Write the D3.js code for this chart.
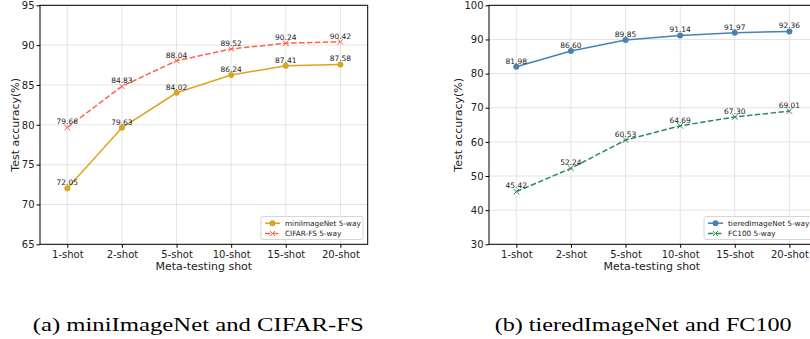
<!DOCTYPE html>
<meta charset="utf-8">
<body style="margin:0;background:#fff">
<div id="chart"></div>
</body>
<script src="https://d3js.org/d3.v7.min.js"></script>
<style>
    text { font-family: "DejaVu Sans", sans-serif; fill: #222; }
    .grid line { stroke: #dcdcdc; stroke-width: 0.8px; }
    .axis path, .axis line { stroke: #000; }
    .caption { font-family: "Liberation Serif", "DejaVu Serif", serif; fill: #000; }
</style>
<script>
    // data
    var shots = ["1-shot", "2-shot", "5-shot", "10-shot", "15-shot", "20-shot"];

    var miniImageNet = [72.05, 79.63, 84.02, 86.24, 87.41, 87.58];
    var cifarFS      = [79.66, 84.83, 88.04, 89.52, 90.24, 90.42];
    var tieredImageNet = [81.98, 86.60, 89.85, 91.14, 91.97, 92.36];
    var fc100          = [45.42, 52.24, 60.53, 64.69, 67.30, 69.01];

    var leftTicks  = [65, 70, 75, 80, 85, 90, 95];
    var rightTicks = [30, 40, 50, 60, 70, 80, 90, 100];

    var W = 810, H = 339;

    var svg = d3.select("#chart").append("svg")
        .attr("width", W)
        .attr("height", H);

    function drawPanel(opt) {
        var g = svg.append("g");
        var x = d3.scalePoint().domain(shots).range([opt.left, opt.right]).padding(0.5);
        var y = d3.scaleLinear().domain(opt.yDomain).range([244.3, 5.3]);

        // grid
        var grid = g.append("g").attr("class", "grid");
        grid.selectAll(".gx").data(shots).enter().append("line")
            .attr("x1", d => x(d)).attr("x2", d => x(d))
            .attr("y1", y.range()[0]).attr("y2", y.range()[1]);
        grid.selectAll(".gy").data(opt.ticks).enter().append("line")
            .attr("x1", opt.left).attr("x2", opt.right)
            .attr("y1", d => y(d)).attr("y2", d => y(d));

        // frame
        g.append("rect")
            .attr("x", opt.left).attr("y", y.range()[1])
            .attr("width", opt.right - opt.left)
            .attr("height", y.range()[0] - y.range()[1])
            .attr("fill", "none").attr("stroke", "#000").attr("stroke-width", 1);

        var xAxis = g.append("g").attr("class", "axis")
            .attr("transform", "translate(0," + y.range()[0] + ")")
            .call(d3.axisBottom(x).tickSize(3.5).tickPadding(3));
        xAxis.select(".domain").remove();
        xAxis.selectAll("text").attr("font-size", "10px").attr("fill", "#222");

        var yAxis = g.append("g").attr("class", "axis")
            .attr("transform", "translate(" + opt.left + ",0)")
            .call(d3.axisLeft(y).tickValues(opt.ticks).tickSize(3.5).tickPadding(2));
        yAxis.select(".domain").remove();
        yAxis.selectAll("text").attr("font-size", "10px").attr("fill", "#222");

        g.append("text")
            .attr("x", (opt.left + opt.right) / 2 + (opt.labelShift || 0))
            .attr("y", 270)
            .attr("text-anchor", "middle")
            .attr("font-size", "11px")
            .text("Meta-testing shot");

        g.append("text")
            .attr("transform", "translate(" + opt.ylabelX + ",124.8) rotate(-90)")
            .attr("text-anchor", "middle")
            .attr("font-size", "11px")
            .text("Test accuracy(%)");

        var line = d3.line().x((d, i) => x(shots[i])).y(d => y(d));

        opt.series.forEach(function (s) {
            g.append("path")
                .datum(s.values)
                .attr("d", line)
                .attr("fill", "none")
                .attr("stroke", s.color)
                .attr("stroke-width", 1.5)
                .attr("stroke-dasharray", s.dashed ? "5.5,2.4" : null);

            var m = g.append("g").selectAll("g").data(s.values).enter().append("g")
                .attr("transform", (d, i) => "translate(" + x(shots[i]) + "," + y(d) + ")");
            if (s.marker === "o") {
                m.append("circle").attr("r", 3).attr("fill", s.color);
            } else {
                m.append("path").attr("d", "M-2.8,-2.8L2.8,2.8M-2.8,2.8L2.8,-2.8")
                    .attr("stroke", s.color).attr("stroke-width", 1);
            }

            g.append("g").selectAll("text").data(s.values).enter().append("text")
                .attr("x", (d, i) => x(shots[i]))
                .attr("y", d => y(d) - 3.2)
                .attr("text-anchor", "middle")
                .attr("font-size", "7.5px")
                .attr("fill", "#222")
                .text(d => d.toFixed(2));
        });

        // legend
        var lg = g.append("g").attr("transform", "translate(" + opt.legendX + ",216.5)");
        lg.append("rect")
            .attr("width", opt.legendW).attr("height", 23)
            .attr("rx", 2)
            .attr("fill", "#fff").attr("fill-opacity", 0.85)
            .attr("stroke", "#ccc").attr("stroke-width", 0.8);
        opt.series.forEach(function (s, i) {
            var yy = 6.7 + i * 10.3;
            lg.append("line")
                .attr("x1", 4).attr("x2", 19).attr("y1", yy).attr("y2", yy)
                .attr("stroke", s.color).attr("stroke-width", 1.5)
                .attr("stroke-dasharray", s.dashed ? "5.5,2.4" : null);
            if (s.marker === "o") {
                lg.append("circle").attr("cx", 11.5).attr("cy", yy).attr("r", 3).attr("fill", s.color);
            } else {
                lg.append("path")
                    .attr("d", "M9,4.2L14,9.2M9,9.2L14,4.2")
                    .attr("transform", "translate(0," + (yy - 6.7) + ")")
                    .attr("stroke", s.color).attr("stroke-width", 1);
            }
            lg.append("text")
                .attr("x", 24).attr("y", yy + 2.6)
                .attr("font-size", "7.3px")
                .attr("fill", "#222")
                .text(s.name);
        });
    }

    drawPanel({
        left: 40, right: 367.7,
        yDomain: [65, 95], ticks: leftTicks,
        ylabelX: 19,
        legendX: 261, legendW: 102,
        series: [
            { name: "miniImageNet 5-way", values: miniImageNet, color: "#DAA520", marker: "o", dashed: false },
            { name: "CIFAR-FS 5-way", values: cifarFS, color: "#FF6347", marker: "x", dashed: true }
        ]
    });

    drawPanel({
        left: 489, right: 816.7,
        yDomain: [30, 100], ticks: rightTicks,
        ylabelX: 461.5,
        legendX: 704, legendW: 108,
        labelShift: -1,
        series: [
            { name: "tieredImageNet 5-way", values: tieredImageNet, color: "#4682B4", marker: "o", dashed: false },
            { name: "FC100 5-way", values: fc100, color: "#2E8B57", marker: "x", dashed: true }
        ]
    });

    // sub-figure captions
    svg.append("text").attr("class", "caption")
        .attr("x", 32.7).attr("y", 331)
        .attr("font-size", "18.5px")
        .attr("textLength", 331).attr("lengthAdjust", "spacingAndGlyphs")
        .text("(a) miniImageNet and CIFAR-FS");

    svg.append("text").attr("class", "caption")
        .attr("x", 494.7).attr("y", 331)
        .attr("font-size", "18.5px")
        .attr("textLength", 297).attr("lengthAdjust", "spacingAndGlyphs")
        .text("(b) tieredImageNet and FC100");
</script>
